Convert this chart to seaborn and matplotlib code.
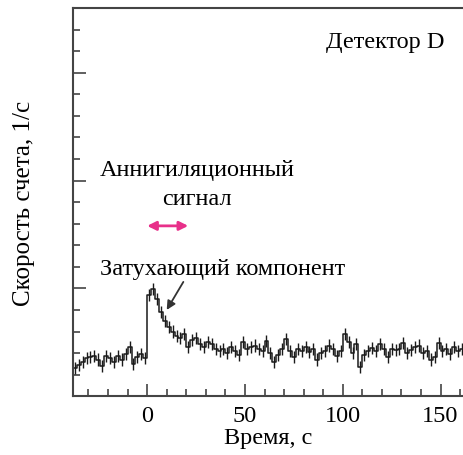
import numpy as np
import pandas as pd
import matplotlib
matplotlib.use("Agg")
import matplotlib.pyplot as plt
from matplotlib.ticker import MultipleLocator
import seaborn as sns

# count rate per 2 s bin (arbitrary units), first bin starts at -38 s
bin_start = -38
bin_width = 2
rate = [
    1.3, 1.45, 1.6, 1.75, 1.8, 1.85, 1.7, 1.4, 1.85, 1.75,
    1.6, 1.85, 1.7, 1.95, 2.3, 1.5, 1.8, 1.95, 1.75,
    4.7, 4.95, 4.5, 3.9, 3.5, 3.2, 3.0, 2.8, 2.7, 2.9,
    2.3, 2.6, 2.7, 2.4, 2.3, 2.5, 2.4, 2.2,
    2.1, 2.2, 2.0, 2.3, 2.1, 1.9, 2.5, 2.2, 2.3, 2.35,
    2.2, 2.1, 2.55, 2.0, 1.6, 1.9, 2.2, 2.65, 2.1, 1.8,
    2.2, 2.1, 2.3, 2.05, 2.2, 1.7, 2.0, 2.1, 2.35, 2.2,
    1.85, 2.1, 2.87, 2.5, 2.0, 2.4, 1.35, 1.9, 2.1, 2.25,
    2.1, 2.4, 2.2, 1.8, 2.2, 2.15, 2.2, 2.45, 2.0, 2.15,
    2.3, 2.35, 2.0, 2.1, 1.7, 1.8, 2.45, 2.1, 2.2, 1.95,
    2.3, 2.1, 2.2,
]
rate_err = 0.28

edges = bin_start + bin_width * np.arange(len(rate) + 1)
df = pd.DataFrame({"t": edges[:-1] + bin_width / 2, "rate": rate})

sns.set_style("ticks")
plt.rcParams['font.family'] = ['Liberation Serif', 'DejaVu Serif']
plt.rcParams['text.color'] = 'black'
plt.rcParams['axes.labelcolor'] = 'black'
plt.rcParams['xtick.labelcolor'] = 'black'
fs = 17.5

fig = plt.figure(figsize=(4.64, 4.56), dpi=100)
ax = fig.add_axes([0.157, 0.129, 0.843, 0.851])

sns.histplot(data=df, x="t", weights="rate", bins=list(edges), element="step",
             fill=False, color="#1a1a1a", linewidth=1.1, ax=ax)
ax.errorbar(df["t"], df["rate"], yerr=rate_err, fmt="none", ecolor="#1a1a1a",
            elinewidth=1.0, capsize=0)

ax.set_xlim(-38, 162)
ax.set_ylim(0, 18)
ax.xaxis.set_major_locator(MultipleLocator(50))
ax.xaxis.set_minor_locator(MultipleLocator(10))
ax.yaxis.set_major_locator(MultipleLocator(5))
ax.yaxis.set_minor_locator(MultipleLocator(1))
ax.tick_params(which="both", direction="in", color="#444444", width=1.2,
               labelsize=fs, pad=6)
ax.tick_params(which="major", length=9)
ax.tick_params(which="minor", length=5)
ax.tick_params(axis="y", which="both", labelleft=False)
for side in ["left", "bottom", "top"]:
    ax.spines[side].set_color("#444444")
    ax.spines[side].set_linewidth(1.5)
ax.spines["right"].set_visible(False)

ax.set_xlabel("Время, с", fontsize=fs, labelpad=1)
ax.set_ylabel("Скорость счета, 1/с", fontsize=fs + 0.5, labelpad=27)

ax.text(0.951, 0.915, "Детектор D", transform=ax.transAxes, ha="right",
        va="center", fontsize=fs)
ax.text(25.5, 10.5, "Аннигиляционный", ha="center", va="center", fontsize=fs)
ax.text(25.5, 9.17, "сигнал", ha="center", va="center", fontsize=fs)
ax.annotate("", xy=(0.0, 7.9), xytext=(21.0, 7.9),
            arrowprops=dict(arrowstyle="<|-|>", color="#e8308a", lw=2,
                            mutation_scale=13, shrinkA=0, shrinkB=0))
ax.text(-24, 5.9, "Затухающий компонент", ha="left", va="center", fontsize=fs)
ax.annotate("", xy=(10, 4.0), xytext=(18.5, 5.3),
            arrowprops=dict(arrowstyle="-|>", color="#333333", lw=1.3,
                            mutation_scale=13, shrinkA=0, shrinkB=0))

fig.savefig("out.png", dpi=100)
